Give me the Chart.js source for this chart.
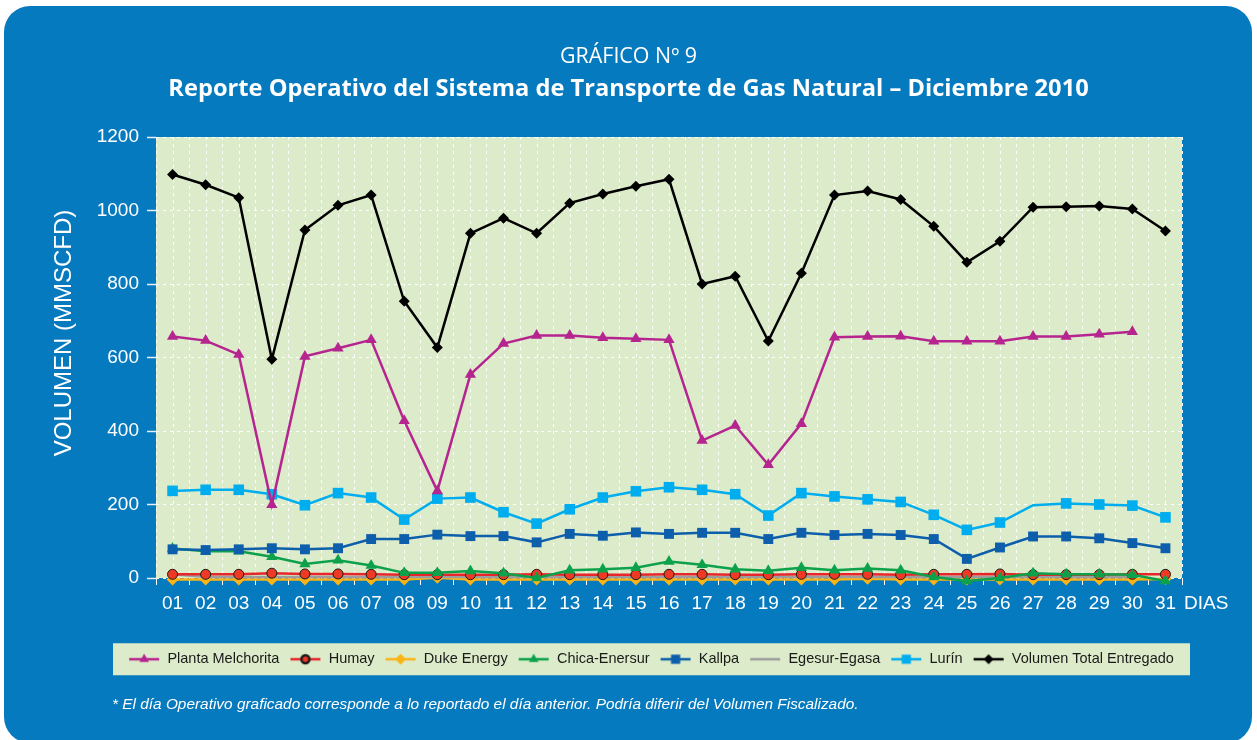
<!DOCTYPE html>
<html><head><meta charset="utf-8">
<script src="https://cdn.jsdelivr.net/npm/chart.js@4.4.0/dist/chart.umd.min.js"></script>
<style>
html,body{margin:0;padding:0;background:#fff;width:1257px;height:740px;overflow:hidden}
#bg{position:absolute;left:4px;top:6px;width:1248px;height:737px;background:#067abf;border-radius:26px}
#wrap{position:absolute;left:0;top:0;width:1257px;height:740px}
#note{position:absolute;left:112px;top:695px;color:#fff;font:italic 15.4px "Liberation Sans",Arial,sans-serif;white-space:nowrap}
</style></head><body>
<div id="bg"></div>
<div id="wrap"><canvas id="c" width="1257" height="740"></canvas></div>
<div id="note">* El día Operativo graficado corresponde a lo reportado el día anterior. Podría diferir del Volumen Fiscalizado.</div>
<script>
// ---------- DATA ----------
const days = ["01","02","03","04","05","06","07","08","09","10","11","12","13","14","15","16","17","18","19","20","21","22","23","24","25","26","27","28","29","30","31"];
const yTickValues = [0,200,400,600,800,1000,1200];
const plantaMelchorita = [657,646,608,199,603,625,648,428,237,554,638,660,660,654,651,648,374,415,308,420,655,657,658,644,644,644,657,657,663,670,null];
const humay = [10,10,10,13,11,11,10,9,9,9,9,10,9,9,9,10,10,9,9,10,10,10,9,10,10,11,9,9,9,10,10];
const dukeEnergy = [-4,-4,-4,-4,-4,-4,-4,-4,1,-4,-4,-4,-4,-4,-4,-4,-4,-4,-4,-4,-4,-2,-4,-4,-4,-4,-4,-4,-4,-4,-3];
const chicaEnersur = [80,73,73,58,38,48,34,14,14,19,13,0,21,24,28,45,36,24,20,28,21,26,21,3,-8,0,13,10,10,9,-8];
const kallpa = [78,76,78,81,78,81,106,106,118,114,114,97,120,115,124,120,123,123,106,123,117,120,117,106,52,83,113,113,108,95,81];
const egesurEgasa = [10,3,3,3,3,3,3,3,3,3,3,3,3,3,3,3,3,3,3,3,3,3,3,3,3,3,3,3,3,3,null];
const lurin = [237,240,240,228,198,231,219,159,216,219,179,148,187,219,236,247,240,228,170,231,222,214,207,172,131,151,198,203,200,197,165];
const volumenTotal = [1098,1070,1035,595,947,1014,1042,753,627,938,979,938,1020,1045,1066,1085,800,821,645,829,1042,1053,1030,957,859,916,1009,1010,1012,1004,944];

// ---------- STYLE ----------
const C = {
  planta:'#b5248f', humay:'#e8262a', duke:'#fbb417', chica:'#0da14b',
  kallpa:'#0d5eab', egesur:'#9d9d9d', lurin:'#00adee', total:'#000000'
};
const PLOT_BG = '#dcebc9';
const TXT = '#ffffff';
const SANS = '"Liberation Sans", Arial, sans-serif';
const TITLE_FAMILY = '"Open Sans", "Noto Sans", sans-serif';

const titleText = 'GRÁFICO Nº 9';
const subtitleText = 'Reporte Operativo del Sistema de Transporte de Gas Natural – Diciembre 2010';

function fitSize(text, weight, family, target, base){
  const ctx = document.createElement('canvas').getContext('2d');
  ctx.font = weight + ' ' + base + 'px ' + family;
  return base * target / ctx.measureText(text).width;
}
const titleSize = fitSize(titleText, '400', TITLE_FAMILY, 137, 18);
const subSize = fitSize(subtitleText, '700', TITLE_FAMILY, 921, 22);
const padTop = 36;
const titlePadTop = 57 - padTop - titleSize*0.6;
const subPadTop = 89 - (padTop + titlePadTop + titleSize*1.2) - subSize*0.6;
const subPadBottom = 137 - (padTop + titlePadTop + titleSize*1.2 + subPadTop + subSize*1.2);

// legend icons: line with marker
function makeIcon(color, style, radius, fill, border){
  const cv = document.createElement('canvas');
  cv.width = 32; cv.height = 16;
  const g = cv.getContext('2d');
  g.strokeStyle = color; g.lineWidth = 2.5;
  g.beginPath(); g.moveTo(1,8); g.lineTo(31,8); g.stroke();
  if (style) {
    g.fillStyle = fill || color; g.strokeStyle = border || color;
    Chart.helpers.drawPoint(g, {pointStyle: style, radius: radius, borderWidth: border ? 1 : 0, rotation: 0}, 16, 8);
  }
  return cv;
}

const datasets = [
  {label:'Planta Melchorita', data:plantaMelchorita, borderColor:C.planta, backgroundColor:C.planta, pointStyle:'triangle', pointRadius:6.5, order:1},
  {label:'Humay', data:humay, borderColor:C.humay, backgroundColor:C.humay, pointStyle:'circle', pointRadius:5, pointBorderColor:'#1a1a1a', pointBorderWidth:1, pointBackgroundColor:'#ee3a24', order:5},
  {label:'Duke Energy', data:dukeEnergy, borderColor:C.duke, backgroundColor:C.duke, pointStyle:'rectRot', pointRadius:6, order:7},
  {label:'Chica-Enersur', data:chicaEnersur, borderColor:C.chica, backgroundColor:C.chica, pointStyle:'triangle', pointRadius:6.5, order:4},
  {label:'Kallpa', data:kallpa, borderColor:C.kallpa, backgroundColor:C.kallpa, pointStyle:'rect', pointRadius:7, order:3},
  {label:'Egesur-Egasa', data:egesurEgasa, borderColor:C.egesur, backgroundColor:C.egesur, pointStyle:'circle', pointRadius:0, order:6},
  {label:'Lurín', data:lurin, borderColor:C.lurin, backgroundColor:C.lurin, pointStyle:'rect', pointRadius:lurin.map((v,i)=> i===26 ? 0 : 7.5), order:2},
  {label:'Volumen Total Entregado', data:volumenTotal, borderColor:C.total, backgroundColor:C.total, pointStyle:'rectRot', pointRadius:5.5, order:0}
];
datasets.forEach(d => { d.borderWidth = 2.5; d.tension = 0; d.clip = false; d.pointHoverRadius = d.pointRadius; if(!d.pointBackgroundColor) d.pointBackgroundColor = d.borderColor; if(!d.pointBorderColor){ d.pointBorderColor = d.borderColor; d.pointBorderWidth = 0; } });

const legendIcons = [
  makeIcon(C.planta,'triangle',5.5),
  makeIcon(C.humay,'circle',4,'#ee3a24','#1a1a1a'),
  makeIcon(C.duke,'rectRot',5.5),
  makeIcon(C.chica,'triangle',5.5),
  makeIcon(C.kallpa,'rect',6.5),
  makeIcon(C.egesur,null),
  makeIcon(C.lurin,'rect',6.5),
  makeIcon(C.total,'rectRot',5)
];

const decor = {
  id:'decor',
  afterLayout(chart){
    chart.boxes.forEach(b => {
      if (b.axis) return;
      if (b.legendItems !== undefined) {
        const s = 651 - (b.left + b.right)/2; b.left += s; b.right += s;
      } else if (b.options && b.options.text !== undefined) {
        const s = 628.5 - (b.left + b.right)/2; b.left += s; b.right += s;
      }
    });
  },
  beforeDraw(chart){
    const {ctx, chartArea:a} = chart;
    ctx.save();
    ctx.fillStyle = PLOT_BG;
    ctx.fillRect(a.left, a.top, a.right - a.left, a.bottom - a.top);
    const lg = chart.legend;
    if (lg && lg.legendHitBoxes && lg.legendHitBoxes.length){
      const hb = lg.legendHitBoxes[0];
      const cy = hb.top + hb.height/2;
      ctx.fillRect(113, cy - 16, 1190 - 113, 32);
    }
    ctx.restore();
  },
  beforeDatasetsDraw(chart){
    const {ctx, chartArea:a, scales:{x}} = chart;
    ctx.save();
    ctx.strokeStyle = 'rgba(255,255,255,0.95)';
    ctx.lineWidth = 1;
    ctx.setLineDash([3,4]);
    for (let i = 0; i < days.length; i++){
      const px = Math.round(x.getPixelForTick(i)) + 0.5;
      ctx.beginPath(); ctx.moveTo(px, a.top); ctx.lineTo(px, a.bottom); ctx.stroke();
    }
    ctx.restore();
  },
  afterDraw(chart){
    const {ctx, chartArea:a, scales:{x}} = chart;
    ctx.save();
    ctx.fillStyle = TXT;
    ctx.font = '19px ' + SANS;
    ctx.textBaseline = 'middle';
    ctx.textAlign = 'left';
    ctx.fillText('DIAS', a.right + 2, x.top + 7 + 7 + 11.4);
    ctx.font = '24px ' + SANS;
    ctx.translate(64.5, 333);
    ctx.rotate(-Math.PI/2);
    ctx.textAlign = 'center';
    ctx.fillText('VOLUMEN (MMSCFD)', 0, 0);
    ctx.restore();
  }
};

new Chart(document.getElementById('c'), {
  type:'line',
  data:{labels:days, datasets:datasets},
  plugins:[decor],
  options:{
    responsive:false, animation:false,
    layout:{padding:{top:padTop, left:50, right:75, bottom:63.5}},
    plugins:{
      tooltip:{enabled:false},
      title:{display:true, text:titleText, color:TXT, font:{family:TITLE_FAMILY, size:titleSize, weight:'normal', lineHeight:1.2}, padding:{top:titlePadTop, bottom:0}},
      subtitle:{display:true, text:subtitleText, color:TXT, font:{family:TITLE_FAMILY, size:subSize, weight:'bold', lineHeight:1.2}, padding:{top:subPadTop, bottom:subPadBottom}},
      legend:{
        display:true, position:'bottom', align:'center',
        labels:{
          usePointStyle:true, pointStyleWidth:32, padding:10, color:'#1a1a1a',
          font:{family:SANS, size:14.5},
          sort:(a,b)=>a.datasetIndex-b.datasetIndex,
          generateLabels:(chart)=>{
            const items = Chart.defaults.plugins.legend.labels.generateLabels(chart);
            items.forEach(it => { it.pointStyle = legendIcons[it.datasetIndex]; });
            return items;
          }
        }
      }
    },
    scales:{
      x:{
        offset:true,
        afterFit:(s)=>{ s.height = 64; },
        grid:{display:true, offset:true, color:'rgba(255,255,255,0.95)', lineWidth:1, drawTicks:true, tickLength:7, tickColor:'#ffffff', tickBorderDash:[], tickWidth:1},
        border:{display:false, dash:[3,4]},
        ticks:{color:TXT, font:{family:SANS, size:19}, padding:7, autoSkip:false, maxRotation:0}
      },
      y:{
        min:0, max:1200,
        afterFit:(s)=>{ s.width = 106; },
        afterBuildTicks:(s)=>{ s.ticks = yTickValues.map(v=>({value:v})); },
        grid:{display:true, color:'rgba(255,255,255,0.95)', lineWidth:1, drawTicks:true, tickLength:9, tickColor:'#e6f0f8', tickBorderDash:[], tickWidth:1.5},
        border:{display:false, dash:[3,4]},
        ticks:{color:TXT, font:{family:SANS, size:19}, padding:8, callback:(v)=>String(v)}
      }
    }
  }
});
</script>
</body></html>
